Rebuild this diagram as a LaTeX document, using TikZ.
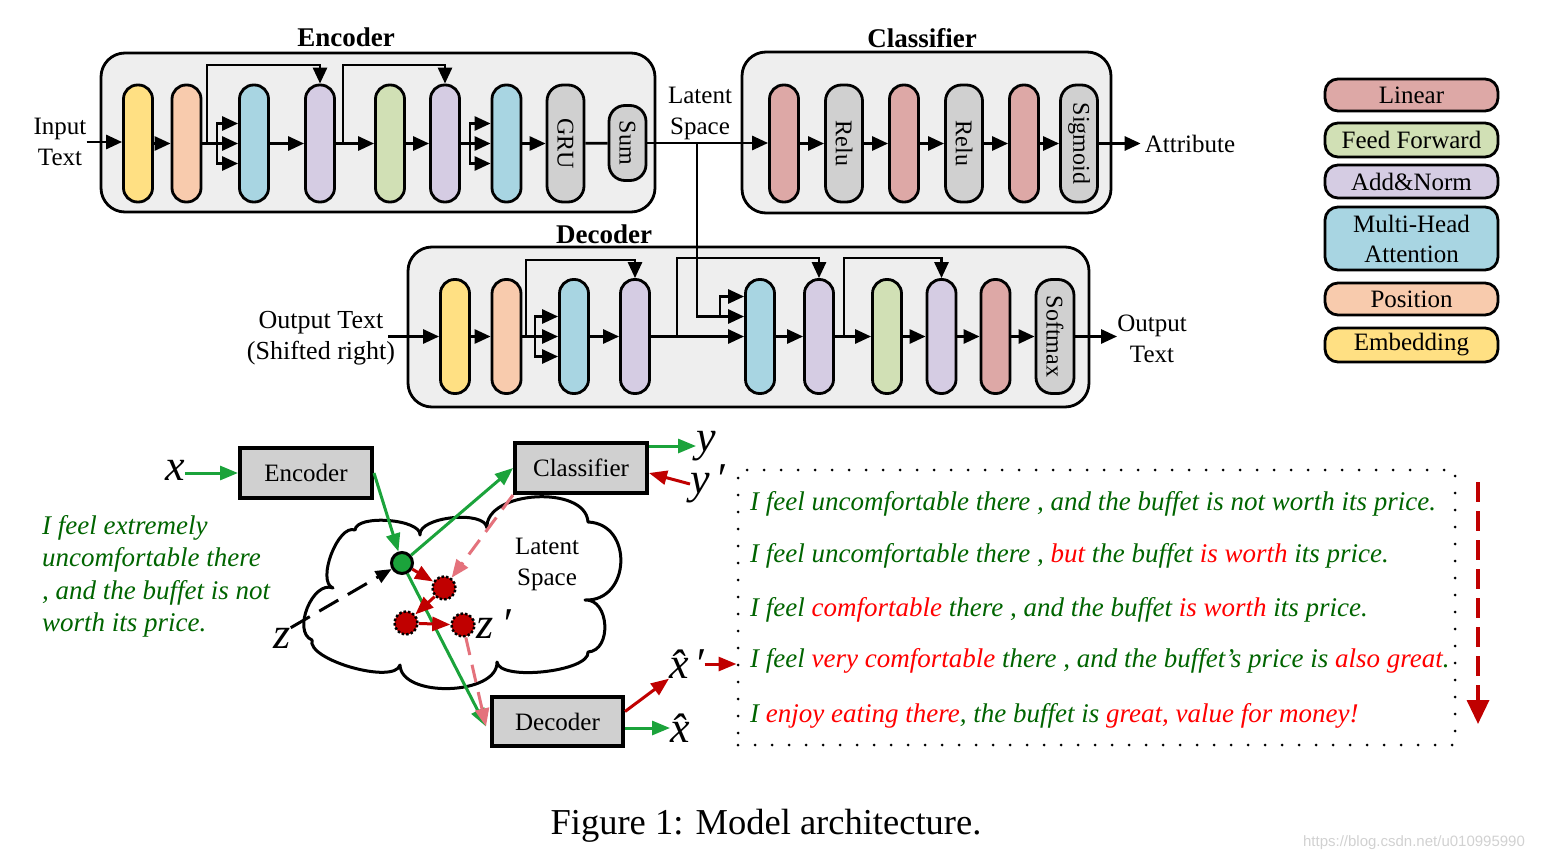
\documentclass[tikz,border=0pt]{standalone}
\usepackage{fontspec}
\setmainfont{Liberation Serif}
\newfontfamily\wmfont{Liberation Sans}
\usetikzlibrary{arrows.meta,calc}
\definecolor{cyel}{HTML}{FFE083}
\definecolor{cora}{HTML}{F8CBAD}
\definecolor{cblu}{HTML}{A8D5E2}
\definecolor{cpur}{HTML}{D5CCE3}
\definecolor{cgrn}{HTML}{D1E0B5}
\definecolor{clin}{HTML}{DDA8A6}
\definecolor{cgry}{HTML}{D0D0D0}
\definecolor{cbox}{HTML}{EEEEEE}
\definecolor{tgrn}{HTML}{006400}
\definecolor{tred}{HTML}{FF0000}
\definecolor{agrn}{HTML}{1BA33B}
\definecolor{ared}{HTML}{C00000}
\definecolor{apnk}{HTML}{E4727C}
\newcommand\redtx[1]{\textcolor{tred}{#1}}
\tikzset{
 ln/.style={line width=2.8pt},
 arr/.style={line width=2.8pt,-{Triangle[length=16pt,width=14pt]}},
 pill/.style={draw,line width=2.8pt,rounded corners=14pt,minimum width=29pt,minimum height=117pt,inner sep=0pt,font=\fontsize{24}{28}\selectfont},
 dpill/.style={pill,minimum height=114pt},
 gpill/.style={pill,fill=cgry,minimum width=37pt,rounded corners=16pt},
 big/.style={draw,line width=2.8pt,fill=cbox,rounded corners=24pt,inner sep=0pt},
 lab/.style={font=\fontsize{25}{31}\selectfont,align=center,inner sep=0pt},
 ttl/.style={font=\fontsize{27}{30}\selectfont\bfseries,inner sep=0pt},
 leg/.style={draw,line width=2.8pt,rounded corners=13pt,minimum width=173pt,inner sep=0pt,font=\fontsize{25}{30}\selectfont,align=center},
 bbox/.style={draw,line width=4pt,fill=cgry,minimum width=132pt,minimum height=50pt,inner sep=0pt,font=\fontsize{25}{30}\selectfont},
 mvar/.style={font=\fontsize{44}{44}\selectfont\itshape,inner sep=0pt},
 garr/.style={agrn,line width=3pt,-{Triangle[length=18pt,width=14pt]}},
 rarr/.style={ared,line width=3pt,-{Triangle[length=18pt,width=14pt]}},
 parr/.style={apnk,line width=3pt,dash pattern=on 18pt off 10pt,-{Triangle[length=18pt,width=14pt]}},
 sent/.style={anchor=west,inner sep=0pt,font=\fontsize{27}{30}\selectfont\itshape,text=tgrn},
 rdot/.style={circle,fill=ared,draw=black,dotted,line width=2.5pt,minimum size=23pt,inner sep=0pt},
}
\begin{document}
\begin{tikzpicture}[x=1pt,y=-1pt]
\useasboundingbox (0,0) rectangle (1541,862);
% ---------- big boxes ----------
\node[big,minimum width=554pt,minimum height=159pt] (encbox) at (378,132.5) {};
\node[big,minimum width=369pt,minimum height=161pt] (clsbox) at (926.5,132.5) {};
\node[big,minimum width=681pt,minimum height=160pt] (decbox) at (748.5,327) {};
\node[ttl] (enct) at (346,37) {Encoder};
\node[ttl] (clst) at (922,38) {Classifier};
\node[ttl] (dect) at (604,234) {Decoder};
% ---------- encoder ----------
\node[pill,fill=cyel] (e1) at (138,143.5) {};
\node[pill,fill=cora] (e2) at (186.5,143.5) {};
\node[pill,fill=cblu] (e3) at (254,143.5) {};
\node[pill,fill=cpur] (e4) at (320,143.5) {};
\node[pill,fill=cgrn] (e5) at (390,143.5) {};
\node[pill,fill=cpur] (e6) at (445,143.5) {};
\node[pill,fill=cblu] (e7) at (506.5,143.5) {};
\node[gpill] (gru) at (565.5,143.5) {\rotatebox{-90}{GRU}};
\node[gpill,minimum height=75pt] (sum) at (627.5,143) {\rotatebox{-90}{Sum}};
\node[lab] (intext) at (60,142) {Input\\Text};
\draw[arr] (intext.east) -- (intext.east -| e1.west);
\draw[arr] (e1) -- (e2);
\coordinate (k1) at (207,143.5);
\coordinate (s1) at (217,143.5);
\draw[ln] (e2.east) -- (s1);
\draw[arr] (k1) -- ++(0,-78.5) -| (e4.north);
\draw[arr] (s1) -- (e3.west);
\draw[arr] (s1) |- ($(e3.west)+(0,-20)$);
\draw[arr] (s1) |- ($(e3.west)+(0,20)$);
\draw[arr] (e3) -- (e4);
\coordinate (k2) at (343,143.5);
\draw[arr] (e4.east) -- (e5.west);
\draw[arr] (k2) -- ++(0,-78.5) -| (e6.north);
\draw[arr] (e5) -- (e6);
\coordinate (s2) at (470,143.5);
\draw[ln] (e6.east) -- (s2);
\draw[arr] (s2) -- (e7.west);
\draw[arr] (s2) |- ($(e7.west)+(0,-20)$);
\draw[arr] (s2) |- ($(e7.west)+(0,20)$);
\draw[arr] (e7) -- (gru);
\draw[ln] (gru) -- (sum);
% ---------- classifier ----------
\node[pill,fill=clin] (c1) at (784,143.5) {};
\node[gpill] (c2) at (844,143.5) {\rotatebox{-90}{Relu}};
\node[pill,fill=clin] (c3) at (904,143.5) {};
\node[gpill] (c4) at (964,143.5) {\rotatebox{-90}{Relu}};
\node[pill,fill=clin] (c5) at (1024,143.5) {};
\node[gpill] (c6) at (1079,143.5) {\rotatebox{-90}{Sigmoid}};
\node[lab] (latl) at (700,113) {Latent\\Space};
\node[lab,inner sep=4pt] (attr) at (1190,143.5) {Attribute};
\draw[arr] (sum.east) -- (sum.east -| c1.west);
\coordinate (lat) at (697,143.5);
\draw[arr] (c1) -- (c2);
\draw[arr] (c2) -- (c3);
\draw[arr] (c3) -- (c4);
\draw[arr] (c4) -- (c5);
\draw[arr] (c5) -- (c6);
\draw[arr] (c6) -- (attr);
% ---------- decoder ----------
\node[dpill,fill=cyel] (d1) at (455,336.5) {};
\node[dpill,fill=cora] (d2) at (506.5,336.5) {};
\node[dpill,fill=cblu] (d3) at (574,336.5) {};
\node[dpill,fill=cpur] (d4) at (635,336.5) {};
\node[dpill,fill=cblu] (d5) at (760,336.5) {};
\node[dpill,fill=cpur] (d6) at (819,336.5) {};
\node[dpill,fill=cgrn] (d7) at (887,336.5) {};
\node[dpill,fill=cpur] (d8) at (941.5,336.5) {};
\node[dpill,fill=clin] (d9) at (995.5,336.5) {};
\node[dpill,fill=cgry,minimum width=38pt,rounded corners=16pt] (d10) at (1055,336.5) {\rotatebox{-90}{Softmax}};
\node[lab,font=\fontsize{26}{31}\selectfont] (outin) at (321,338) {Output Text\\(Shifted right)};
\coordinate (oi) at (388,336.5);
\draw[arr] (oi) -- (d1.west);
\draw[arr] (d1) -- (d2);
\coordinate (k3) at (526,336.5);
\coordinate (s3) at (535,336.5);
\draw[ln] (d2.east) -- (s3);
\draw[arr] (k3) -- ++(0,-76.5) -| (d4.north);
\draw[arr] (s3) -- (d3.west);
\draw[arr] (s3) |- ($(d3.west)+(0,-20)$);
\draw[arr] (s3) |- ($(d3.west)+(0,20)$);
\draw[arr] (d3) -- (d4);
\coordinate (k4) at (677,336.5);
\draw[arr] (d4.east) -- (d5.west);
\draw[arr] (k4) -- ++(0,-78.5) -| (d6.north);
\draw[arr] (lat) |- ($(d5.west)+(0,-20)$);
\coordinate (s4) at (720,316.5);
\draw[arr] (s4) |- ($(d5.west)+(0,-40)$);
\draw[arr] (d5) -- (d6);
\coordinate (k5) at (844,336.5);
\draw[arr] (d6.east) -- (d7.west);
\draw[arr] (k5) -- ++(0,-78.5) -| (d8.north);
\draw[arr] (d7) -- (d8);
\draw[arr] (d8) -- (d9);
\draw[arr] (d9) -- (d10);
\node[lab] (outt) at (1152,339) {Output\\Text};
\draw[arr] (d10.east) -- (d10.east -| outt.west);
% ---------- legend ----------
\node[leg,fill=clin,minimum height=32pt] (lg1) at (1411.5,95) {Linear};
\node[leg,fill=cgrn,minimum height=34pt] (lg2) at (1411.5,140) {Feed Forward};
\node[leg,fill=cpur,minimum height=33pt] (lg3) at (1411.5,181.5) {Add\&Norm};
\node[leg,fill=cblu,minimum height=63pt] (lg4) at (1411.5,238.5) {Multi-Head\\Attention};
\node[leg,fill=cora,minimum height=32pt] (lg5) at (1411.5,299) {Position};
\node[leg,fill=cyel,minimum height=34pt] (lg6) at (1411.5,345) {Embedding};
% ---------- bottom: cloud ----------
\draw[line width=3pt,fill=white,line join=round]
 (312,640) to[bend left=90,looseness=1.0] (333,588)
 to[bend left=90,looseness=0.75] (355,530)
 to[bend left=90,looseness=0.63] (420,535)
 to[bend left=90,looseness=0.7] (487,528)
 to[bend left=90,looseness=0.95] (588,522)
 to[bend left=90,looseness=1.5] (585,600)
 to[bend left=90,looseness=1.2] (588,652)
 to[bend left=90,looseness=0.55] (497,662)
 to[bend left=90,looseness=0.88] (400,665)
 to[bend left=90,looseness=0.58] (312,640) -- cycle;
\node[lab] (latb) at (547,564) {Latent\\Space};
% ---------- bottom nodes ----------
\node[mvar] (bx) at (175,470) {x};
\node[bbox] (benc) at (306,473) {Encoder};
\node[bbox] (bcls) at (581,468) {Classifier};
\node[bbox,minimum width=131pt,minimum height=49pt] (bdec) at (557.5,721.5) {Decoder};
\node[circle,fill=agrn,draw=black,line width=3pt,minimum size=21pt,inner sep=0pt] (gdot) at (402,563) {};
\node[rdot] (r1) at (444,588) {};
\node[rdot] (r2) at (406,623) {};
\node[rdot] (r3) at (463,625) {};
\node[mvar] (bz) at (282,638) {z};
\node[mvar,anchor=west] (bzp) at (476,624) {z\hspace{8pt}′};
\node[mvar] (by) at (706,446) {y};
\node[mvar,anchor=west] (byp) at (690,484) {y\hspace{6pt}′};
\node[mvar] (bxh) at (680,728) {\^{x}};
\node[mvar,anchor=west] (bxhp) at (669,664) {\^{x}\hspace{6pt}′};
\node[draw,line width=3pt,line cap=round,dash pattern=on 0pt off 17pt,minimum width=717pt,minimum height=275pt,inner sep=0pt] (dbox) at (1096.5,607.5) {};
% ---------- bottom connectors ----------
\coordinate (dtip) at ($(bdec.west)+(-4,5)$);
\draw[garr] (bx.east |- benc.west) -- (benc.west);
\draw[garr] (benc.east) -- (gdot);
\draw[garr] (gdot) -- (bcls.west);
\draw[garr] (gdot) -- (dtip);
\draw[black,line width=3pt,dash pattern=on 22pt off 11pt,-{Triangle[length=16pt,width=13pt]}] (bz.north east) -- (gdot);
\draw[rarr] (gdot) -- (r1);
\draw[rarr] (r1) -- (r2);
\draw[rarr] (r2) -- (r3);
\draw[parr] (bcls.south west) -- (r1);
\draw[parr] (r3) -- (dtip);
\draw[garr] (bcls.east |- by) -- (by.west);
\draw[rarr] (byp.west) -- ($(bcls.east)+(0,5)$);
\draw[rarr] ($(bdec.east)+(0,-10)$) -- (bxhp.south west);
\draw[garr] (bdec.east |- bxh) -- (bxh.west);
\draw[rarr] (bxhp.east) -- (bxhp.east -| dbox.west);
\coordinate (rs) at (1478,482);
\coordinate (re) at (1478,724);
\draw[ared,line width=3.5pt,dash pattern=on 20pt off 9pt,-{Triangle[length=24pt,width=22pt]}] (rs) -- (re);
% ---------- sentences ----------
\node[sent] (t1) at (750,504) {I feel uncomfortable there , and the buffet is not worth its price.};
\node[sent] (t2) at (750,556) {I feel uncomfortable there , \redtx{but} the buffet \redtx{is worth} its price.};
\node[sent] (t3) at (750,610) {I feel \redtx{comfortable} there , and the buffet \redtx{is worth} its price.};
\node[sent] (t4) at (750,661) {I feel \redtx{very comfortable} there , and the buffet's price is \redtx{also great}.};
\node[sent] (t5) at (750,716) {I \redtx{enjoy eating there}, the buffet is \redtx{great, value for money!}};
\node[anchor=north west,inner sep=0pt,align=left,font=\fontsize{27}{32.5}\selectfont\itshape,text=tgrn] (ltxt) at (42,515) {I feel extremely\\uncomfortable there\\, and the buffet is not\\worth its price.};
% ---------- caption ----------
\node[font=\fontsize{36.5}{40}\selectfont,inner sep=0pt] (cap) at (766,826) {Figure 1: Model architecture.};
\node[font=\wmfont\fontsize{15}{16}\selectfont,text=black!18,inner sep=0pt] (wm) at (1414,843) {https://blog.csdn.net/u010995990};
\end{tikzpicture}
\end{document}
